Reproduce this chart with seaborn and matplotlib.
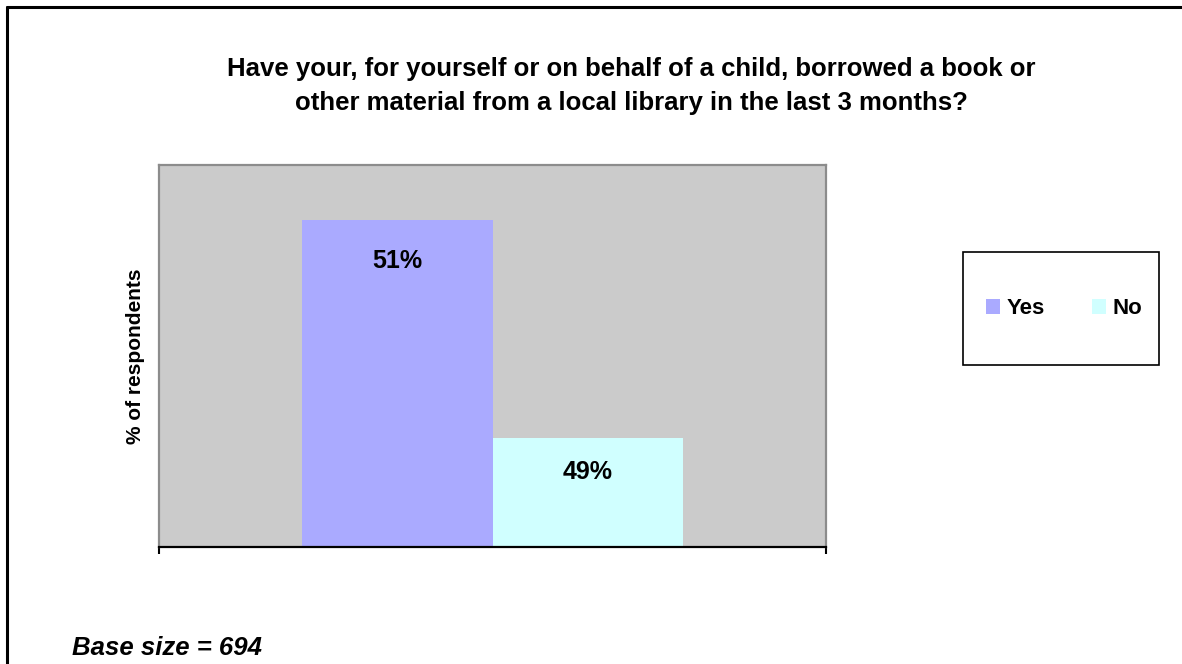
import matplotlib
matplotlib.use("Agg")
import matplotlib.pyplot as plt
from matplotlib.lines import Line2D
from matplotlib.patches import Rectangle, Patch
import seaborn as sns
import pandas as pd

# Survey answers
answers = ["Yes", "No"]
percentages = [51, 49]
category = ["Borrowed from library"]
bar_colors = ["#AAAAFF", "#D0FFFF"]

title = ("Have your, for yourself or on behalf of a child, borrowed a book or\n"
         "other material from a local library in the last 3 months?")
ylabel = "% of respondents"
footnote = "Base size = 694"

df = pd.DataFrame({"group": category * len(answers),
                   "answer": answers,
                   "pct": percentages})

sns.set_theme(style="white")
plt.rcParams["font.family"] = ["Liberation Sans", "DejaVu Sans"]
plt.rcParams["text.color"] = "black"
plt.rcParams["axes.labelcolor"] = "black"

fig = plt.figure(figsize=(11.82, 6.64), dpi=100)
ax = fig.add_axes([159 / 1182, 1 - 547 / 664, 667 / 1182, 382 / 664])
ax.set_facecolor("#CBCBCB")

sns.barplot(data=df, x="group", y="pct", hue="answer", hue_order=answers,
            palette=bar_colors, width=0.571, saturation=1, legend=False,
            edgecolor="none", linewidth=0, ax=ax)

ax.set_xlim(-0.5, 0.5)
ax.set_ylim(48, 51.5)

# value labels inside the top of each bar
offsets = [-41, -34]
for cont, val, off in zip(ax.containers, percentages, offsets):
    for rect in cont:
        ax.annotate(f"{val}%", (rect.get_x() + rect.get_width() / 2, rect.get_height()),
                    xytext=(0, off), textcoords="offset pixels",
                    ha="center", va="center", fontsize=18, fontweight="bold",
                    color="black")

# axes frame
for side in ["left", "top", "right"]:
    ax.spines[side].set_color("#8C8C8C")
    ax.spines[side].set_linewidth(1.6)
ax.spines["bottom"].set_color("black")
ax.spines["bottom"].set_linewidth(1.6)

ax.set_yticks([])
ax.set_xticks([-0.5, 0.5])
ax.set_xticklabels(["", ""])
ax.tick_params(axis="x", direction="out", length=5, width=1.5, color="black",
               bottom=True, pad=0)
ax.set_xlabel("")
ax.set_ylabel(ylabel, fontsize=15, fontweight="bold", labelpad=10, color="black")

fig.text(631 / 1182, 1 - 86 / 664, title, ha="center", va="center",
         fontsize=18.5, fontweight="bold", linespacing=1.5, color="black")

fig.text(72 / 1182, 1 - 648 / 664, footnote, ha="left", va="center",
         fontsize=18.5, fontweight="bold", style="italic", color="black")

# legend box
fig.add_artist(Rectangle((963 / 1182, 1 - 365 / 664), 196 / 1182, 113 / 664,
                         transform=fig.transFigure, facecolor="white",
                         edgecolor="black", linewidth=1.2))
handles = [Patch(facecolor=c, edgecolor="none", label=a)
           for a, c in zip(answers, bar_colors)]
fig.legend(handles=handles, loc="center", bbox_to_anchor=(1064 / 1182, 1 - 309 / 664),
           ncol=2, frameon=False, prop={"size": 16, "weight": "bold"},
           labelcolor="black",
           handlelength=0.65, handleheight=0.65, handletextpad=0.3,
           columnspacing=2.1, borderpad=0)

# outer frame (left and top edges)
fig.add_artist(Line2D([7 / 1182, 7 / 1182], [0, 1 - 7 / 664],
                      transform=fig.transFigure, color="black", linewidth=2.2))
fig.add_artist(Line2D([7 / 1182, 1], [1 - 7 / 664, 1 - 7 / 664],
                      transform=fig.transFigure, color="black", linewidth=2.2))

fig.savefig("out.png", dpi=100, facecolor="white")
